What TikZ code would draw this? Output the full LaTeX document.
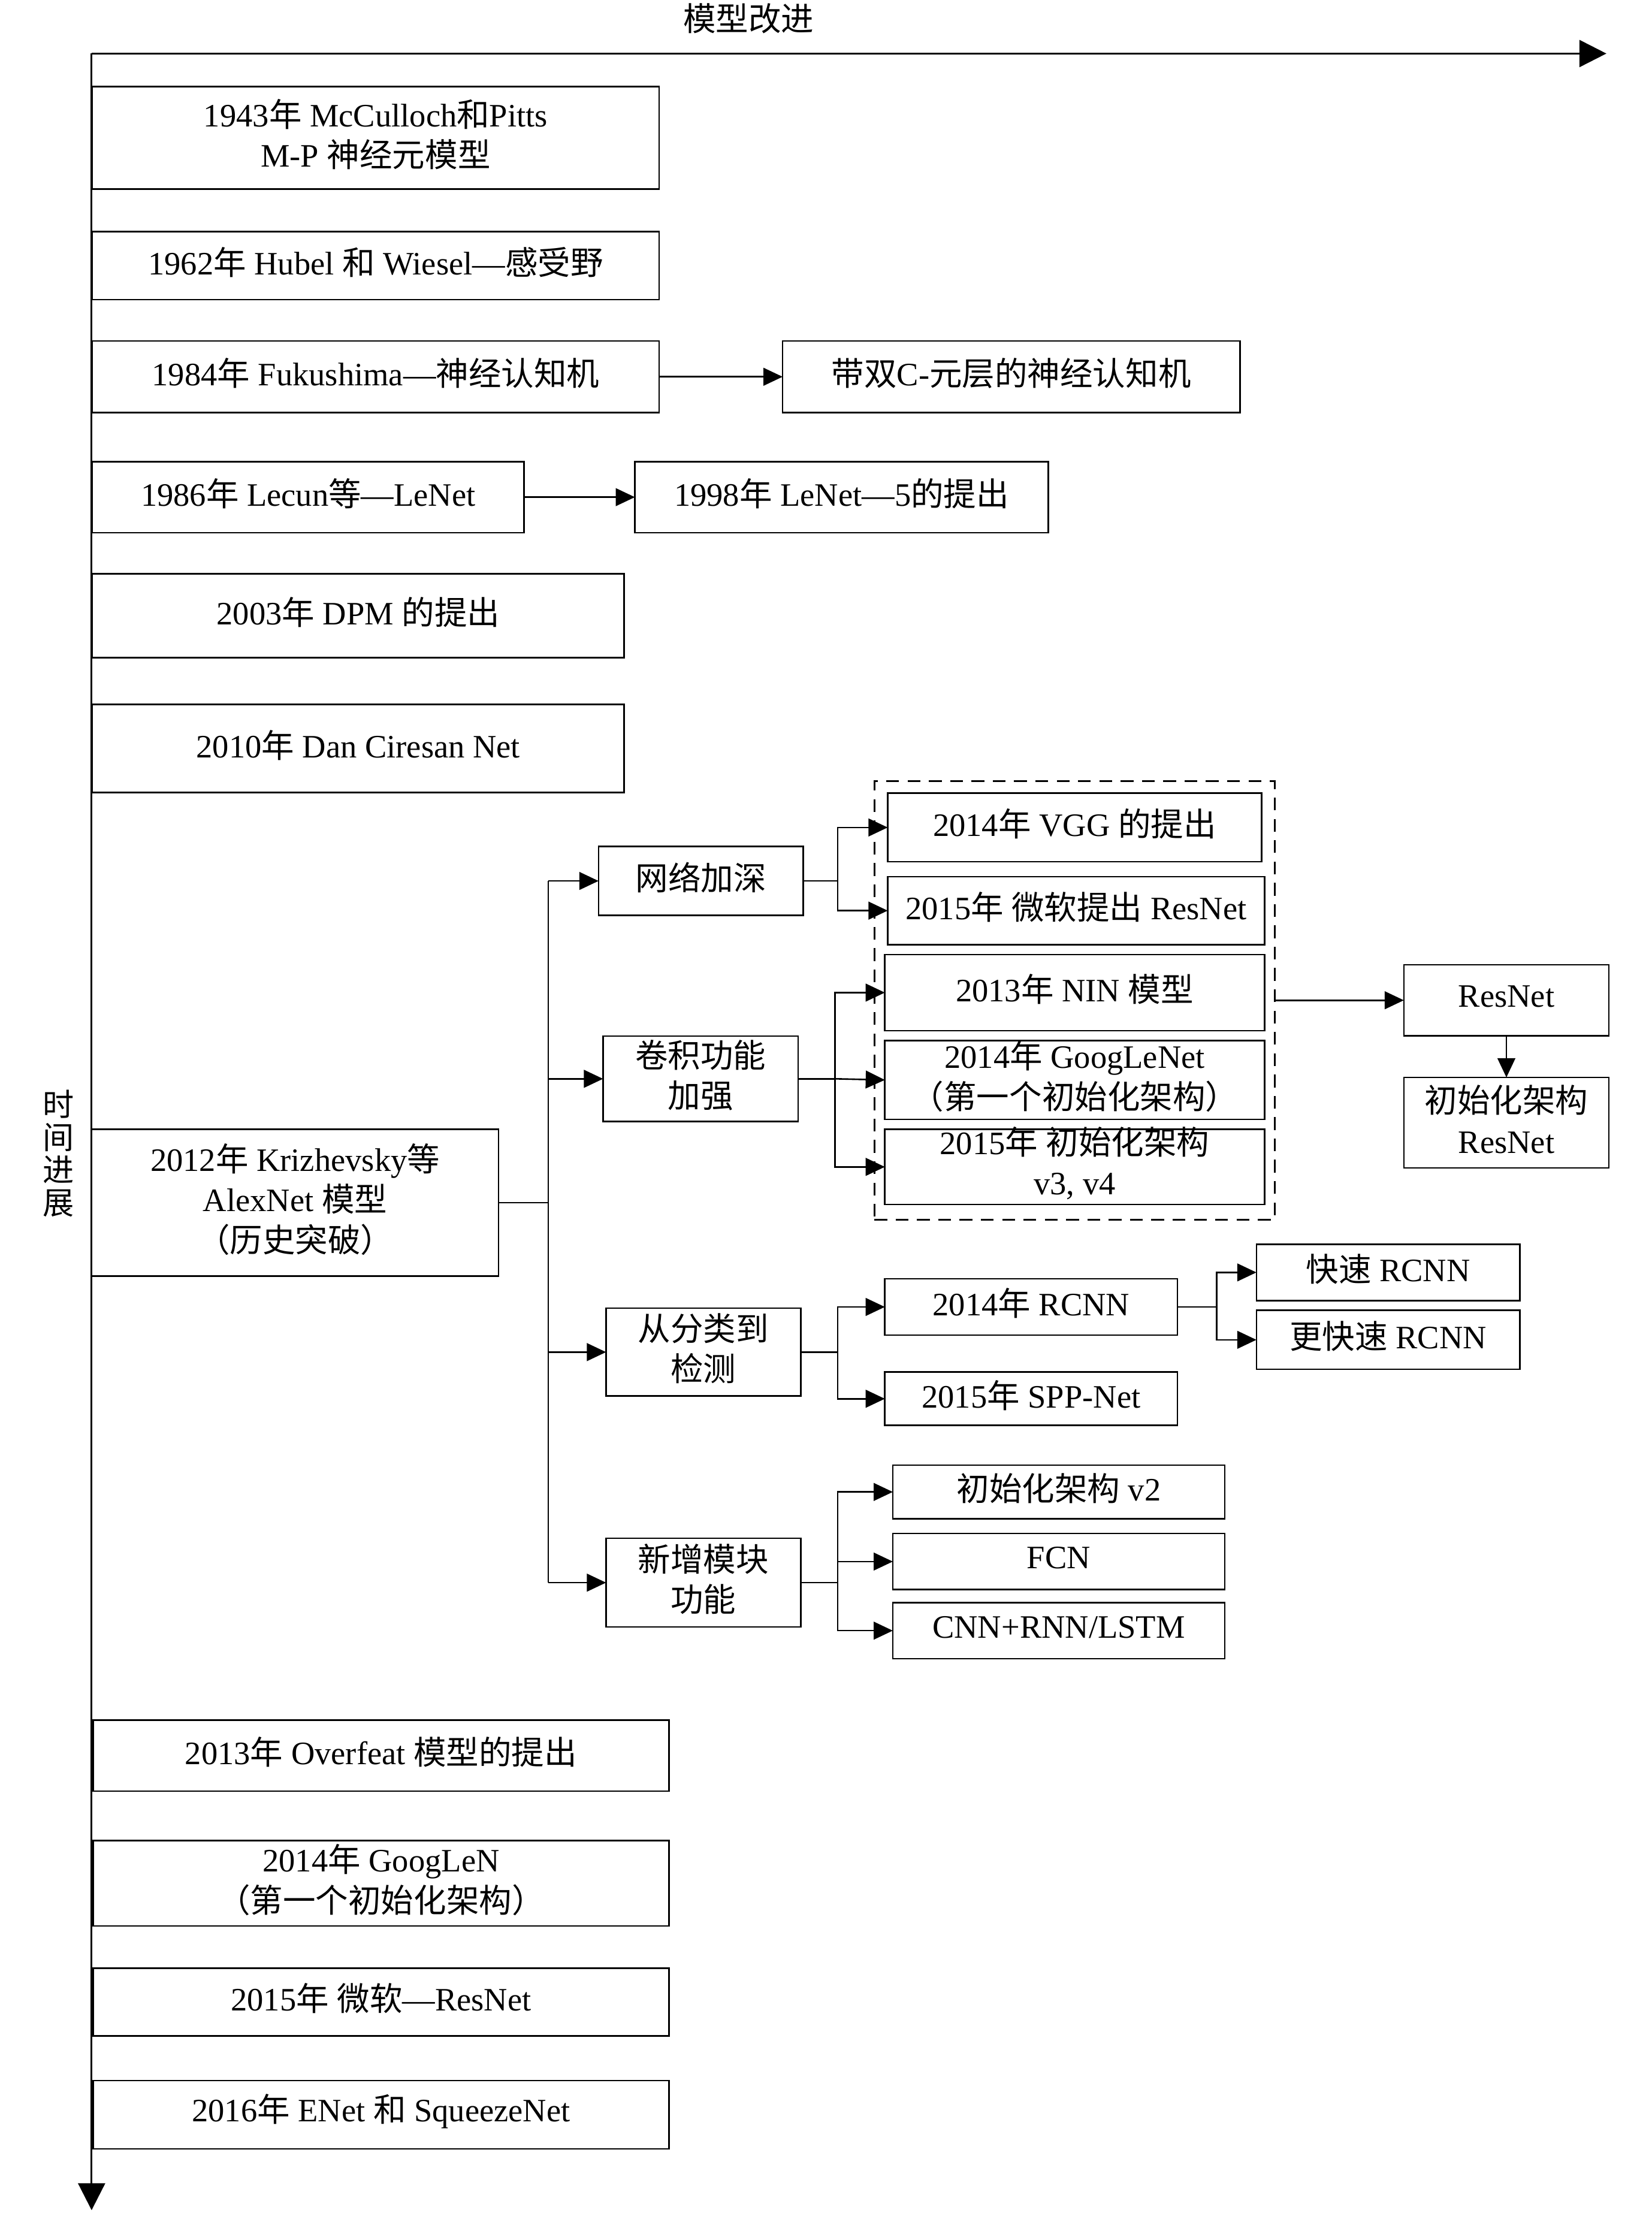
\documentclass[tikz,border=0pt]{standalone}
\usepackage{fontspec}
\setmainfont{Liberation Serif}
\newfontfamily\cjkfont{Noto Sans CJK SC}
\newcommand\ZH[1]{{\cjkfont #1}}
\usetikzlibrary{arrows.meta}
\tikzset{
  box/.style={draw, line width=1.1pt, inner sep=0pt, outer sep=0pt},
  boxtext/.style={inner sep=0pt, align=center, font=\fontsize{23}{28.5}\selectfont},
  grpbox/.style={draw, line width=1.1pt, dash pattern=on 9pt off 6pt, inner sep=0pt, outer sep=0pt},
  conn/.style={line width=1.1pt},
  arr/.style={line width=1.1pt, -{Triangle[length=13.5pt,width=12.5pt]}},
  axisarr/.style={line width=1.3pt, -{Triangle[length=19pt,width=19pt]}},
  lbl/.style={inner sep=0pt, align=center}
}
% \bx[style]{name}{x1}{y1}{x2}{y2}{text}
\newcommand\bx[7][box]{%
  \pgfmathsetmacro\cxx{(#3+#5)/2}\pgfmathsetmacro\cyy{(#4+#6)/2}%
  \pgfmathsetmacro\ww{#5-#3}\pgfmathsetmacro\hh{#6-#4}%
  \pgfmathsetmacro\cyt{\cyy-2.5}%
  \node[#1, minimum width=\ww pt, minimum height=\hh pt] (#2) at (\cxx,\cyy) {};
  \node[boxtext] (#2-t) at (\cxx,\cyt) {#7};}
\begin{document}
\begin{tikzpicture}[x=1pt,y=-1pt]
\useasboundingbox (0,0) rectangle (1163,1558);

% axes
\coordinate (O) at (64.5,37.7);
\coordinate (Xend) at (1131,37.7);
\coordinate (Yend) at (64.5,1556);
\draw[axisarr] (O) -- (Xend);
\draw[axisarr] (O) -- (Yend);
\node[lbl, font=\fontsize{23}{23}\selectfont\cjkfont] (toplbl) at (527,13) {模型改进};
\node[lbl, font=\fontsize{22}{23}\selectfont\cjkfont] (sidelbl) at (41,812) {时\\间\\进\\展};

% timeline boxes
\bx{n1943}{65}{61}{464}{133}{1943\ZH{年} McCulloch\ZH{和}Pitts\\M-P \ZH{神经元模型}}
\bx{n1962}{65}{163}{464}{211}{1962\ZH{年} Hubel \ZH{和} Wiesel—\ZH{感受野}}
\bx{n1984}{65}{240}{464}{290.5}{1984\ZH{年} Fukushima—\ZH{神经认知机}}
\bx{neo}{551}{240}{873}{290.5}{\ZH{带双}C-\ZH{元层的神经认知机}}
\bx{n1986}{65}{325}{369}{375}{1986\ZH{年} Lecun\ZH{等}—LeNet}
\bx{n1998}{447}{325}{738}{375}{1998\ZH{年} LeNet—5\ZH{的提出}}
\bx{n2003}{65}{404}{439.5}{463}{2003\ZH{年} DPM \ZH{的提出}}
\bx{n2010}{65}{496}{439.5}{558}{2010\ZH{年} Dan Ciresan Net}
\bx{alex}{64.6}{795}{351}{898.5}{2012\ZH{年} Krizhevsky\ZH{等}\\AlexNet \ZH{模型}\\\ZH{（历史突破）}}
\bx{overfeat}{65.6}{1210.9}{471}{1261}{2013\ZH{年} Overfeat \ZH{模型的提出}}
\bx{googlen}{65.6}{1295.8}{471}{1355.9}{2014\ZH{年} GoogLeN\\\ZH{（第一个初始化架构）}}
\bx{msres}{65.6}{1385.6}{471}{1433.4}{2015\ZH{年} \ZH{微软}—ResNet}
\bx{enet}{65.6}{1464.7}{471}{1512.8}{2016\ZH{年} ENet \ZH{和} SqueezeNet}

% category boxes
\bx{deep}{421.4}{596}{565.6}{644.4}{\ZH{网络加深}}
\bx{conv}{424.6}{729.5}{562}{789.5}{\ZH{卷积功能}\\\ZH{加强}}
\bx{det}{426.7}{921}{563.8}{982.8}{\ZH{从分类到}\\\ZH{检测}}
\bx{newm}{426.7}{1083}{563.8}{1145.4}{\ZH{新增模块}\\\ZH{功能}}

% dashed group
\pgfmathsetmacro\gcx{(615.6+897.5)/2}\pgfmathsetmacro\gcy{(550+858.6)/2}
\node[grpbox, minimum width=281.9pt, minimum height=308.6pt] (grp) at (\gcx,\gcy) {};
\bx{vgg}{625}{558.4}{888.2}{606.7}{2014\ZH{年} VGG \ZH{的提出}}
\bx{res15}{625}{617.2}{890.3}{665}{2015\ZH{年} \ZH{微软提出} ResNet}
\bx{nin}{623}{672}{890.3}{725.6}{2013\ZH{年} NIN \ZH{模型}}
\bx{goog}{623}{732.6}{890.3}{788}{2014\ZH{年} GoogLeNet\\\ZH{（第一个初始化架构）}}
\bx{v34}{623}{795}{890.3}{848}{2015\ZH{年} \ZH{初始化架构}\\v3, v4}

\bx{resnet}{988.4}{679.2}{1132.8}{729.2}{ResNet}
\bx{initres}{988.4}{758.5}{1132.8}{822.3}{\ZH{初始化架构}\\ResNet}

\bx{rcnn}{623}{900.3}{829}{939.9}{2014\ZH{年} RCNN}
\bx{spp}{623}{966}{829}{1003.5}{2015\ZH{年} SPP-Net}
\bx{fast}{884.6}{876}{1070}{915.6}{\ZH{快速} RCNN}
\bx{faster}{884.6}{922.5}{1070}{964}{\ZH{更快速} RCNN}

\bx{v2}{628.6}{1031.5}{862.3}{1069.2}{\ZH{初始化架构} v2}
\bx{fcn}{628.6}{1079.6}{862.3}{1119.1}{FCN}
\bx{cnnrnn}{628.6}{1128.2}{862.3}{1167.8}{CNN+RNN/LSTM}

% connectors
\draw[arr] (n1984.east) -- (neo.west);
\draw[arr] (n1986.east) -- (n1998.west);

\coordinate (tr) at (386,0);
\draw[conn] (alex.east) -- (alex.east -| tr);
\draw[conn] (tr |- deep.west) -- (tr |- newm.west);
\draw[arr] (tr |- deep.west) -- (deep.west);
\draw[arr] (tr |- conv.west) -- (conv.west);
\draw[arr] (tr |- det.west) -- (det.west);
\draw[arr] (tr |- newm.west) -- (newm.west);

\coordinate (ja) at (589.7,0);
\coordinate (jb) at (588,0);
\coordinate (jc) at (856.6,0);
\draw[conn] (deep.east) -- (deep.east -| ja);
\draw[arr] (deep.east -| ja) |- (vgg.west);
\draw[arr] (deep.east -| ja) |- (res15.west);

\draw[conn] (conv.east) -- (conv.east -| jb);
\draw[arr] (conv.east -| jb) |- (nin.west);
\draw[arr] (conv.east -| jb) -- (goog.west);
\draw[arr] (conv.east -| jb) |- (v34.west);

\draw[arr] (resnet.west -| grp.east) -- (resnet.west);
\draw[arr] (resnet.south) -- (initres.north);

\draw[conn] (det.east) -- (det.east -| ja);
\draw[arr] (det.east -| ja) |- (rcnn.west);
\draw[arr] (det.east -| ja) |- (spp.west);

\draw[conn] (rcnn.east) -- (rcnn.east -| jc);
\draw[arr] (rcnn.east -| jc) |- (fast.west);
\draw[arr] (rcnn.east -| jc) |- (faster.west);

\draw[conn] (newm.east) -- (newm.east -| ja);
\draw[arr] (newm.east -| ja) |- (v2.west);
\draw[arr] (newm.east -| ja) |- (fcn.west);
\draw[arr] (newm.east -| ja) |- (cnnrnn.west);
\end{tikzpicture}
\end{document}
